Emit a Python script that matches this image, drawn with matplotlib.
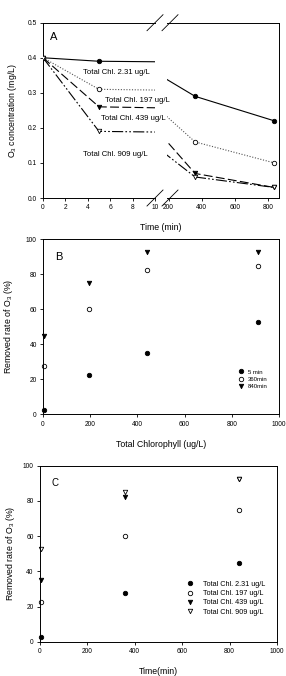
import numpy as np
import matplotlib.pyplot as plt
from matplotlib.lines import Line2D

plt.rcParams['font.family'] = ['Liberation Sans', 'DejaVu Sans']
plt.rcParams['mathtext.default'] = 'regular'

# -----------------------------
# DADOS
# -----------------------------
series = ["Total Chl. 2.31 ug/L", "Total Chl. 197 ug/L",
          "Total Chl. 439 ug/L", "Total Chl. 909 ug/L"]
chl = [2.31, 197, 439, 909]

# painel A: concentração de O3
t_a = [0, 5, 360, 840]
o3_231 = [0.40, 0.39, 0.29, 0.22]
o3_197 = [0.40, 0.31, 0.16, 0.10]
o3_439 = [0.40, 0.26, 0.07, 0.03]
o3_909 = [0.40, 0.19, 0.06, 0.03]

# painel B: remoção x clorofila
rem_5min = [2.5, 22.5, 35, 52.5]
rem_360min = [27.5, 60, 82.5, 85]
rem_840min = [45, 75, 92.5, 92.5]
labels_b = ["5 min", "360min", "840min"]

# painel C: remoção x tempo
t_c = [5, 360, 840]
rem_231 = [2.5, 27.5, 45]
rem_197 = [22.5, 60, 75]
rem_439 = [35, 82.5, 92.5]
rem_909 = [52.5, 85, 92.5]

W, H = 286, 676
fig = plt.figure(figsize=(W / 100, H / 100), dpi=100)


def box(x0, y0, x1, y1):
    return [x0 / W, 1 - y1 / H, (x1 - x0) / W, (y1 - y0) / H]


def estilo(ax):
    ax.tick_params(direction='out', length=2.5, width=0.6, labelsize=4.8, pad=2)
    for s in ax.spines.values():
        s.set_linewidth(0.7)


mk = [dict(marker='o', mfc='black', mec='black'),
      dict(marker='o', mfc='white', mec='black'),
      dict(marker='v', mfc='black', mec='black'),
      dict(marker='v', mfc='white', mec='black')]
ls = ['-', (0, (1, 1.5)), (0, (8, 3)), (0, (10, 2, 1.5, 2, 1.5, 2))]
cores = ['black', '#555555', 'black', 'black']

# -----------------------------
# PAINEL A (eixo quebrado)
# -----------------------------
ax1 = fig.add_axes(box(43, 22.7, 155, 198))
ax2 = fig.add_axes(box(167, 22.7, 279, 198))
for ax in (ax1, ax2):
    for i, y in enumerate([o3_231, o3_197, o3_439, o3_909]):
        ax.plot(t_a, y, linestyle=ls[i], color=cores[i], lw=0.8, zorder=3)
    for i, y in enumerate([o3_231, o3_197, o3_439, o3_909]):
        ax.plot(t_a, y, linestyle='none', markersize=3.2, mew=0.6,
                **mk[i], zorder=4)
    ax.set_ylim(0, 0.5)
    estilo(ax)
ax1.set_xlim(0, 10)
ax1.set_xticks(range(0, 11, 2))
ax1.set_yticks(np.arange(0, 0.51, 0.1))
ax1.set_yticklabels(["%.1f" % v for v in np.arange(0, 0.51, 0.1)])
ax1.spines['right'].set_visible(False)
ax2.set_xlim(190, 868)
ax2.set_xticks([200, 400, 600, 800])
ax2.spines['left'].set_visible(False)
ax2.tick_params(axis='y', left=False, labelleft=False)
ax1.set_ylabel("O$_3$ concentration (mg/L)", fontsize=6.3, labelpad=6)
fig.text(161 / W, 1 - 227 / H, "Time (min)", fontsize=6.3,
         ha='center', va='center')
ax1.text(0.06, 0.92, "A", transform=ax1.transAxes, fontsize=8,
         ha='left', va='center')

# rótulos das séries
pos_txt = [(116, 73), (137, 100), (133, 119), (115, 154)]
for txt, (px, py) in zip(series, pos_txt):
    fig.text(px / W, 1 - py / H, txt, fontsize=5.6, ha='center', va='center')

# marcas de quebra
for yb in (22.7, 198):
    for xc in (155, 170):
        fig.add_artist(Line2D([(xc - 8) / W, (xc + 8) / W],
                              [1 - (yb + 8) / H, 1 - (yb - 8) / H],
                              color='black', lw=0.6))

# -----------------------------
# PAINEL B
# -----------------------------
axb = fig.add_axes(box(43, 239.3, 279, 414.3))
for i, y in enumerate([rem_5min, rem_360min, rem_840min]):
    axb.plot(chl, y, linestyle='none', markersize=3.2, mew=0.6,
             label=labels_b[i], clip_on=False, **mk[i])
axb.set_xlim(0, 1000)
axb.set_ylim(0, 100)
axb.set_xticks(range(0, 1001, 200))
axb.set_yticks(range(0, 101, 20))
estilo(axb)
axb.set_xlabel("Total Chlorophyll (ug/L)", fontsize=6.3, labelpad=9)
axb.set_ylabel("Removed rate of O$_3$ (%)", fontsize=6.3, labelpad=8)
axb.text(0.05, 0.9, "B", transform=axb.transAxes, fontsize=8,
         ha='left', va='center')
axb.legend(loc='lower right', bbox_to_anchor=(0.97, 0.12), frameon=False,
           fontsize=4.3, handlelength=1.0, handletextpad=0.6,
           labelspacing=0.35, borderpad=0.2)

# -----------------------------
# PAINEL C
# -----------------------------
axc = fig.add_axes(box(40, 465.7, 277, 641.7))
for i, y in enumerate([rem_231, rem_197, rem_439, rem_909]):
    axc.plot(t_c, y, linestyle='none', markersize=3.2, mew=0.6,
             label=series[i], clip_on=False, **mk[i])
axc.set_xlim(0, 1000)
axc.set_ylim(0, 100)
axc.set_xticks(range(0, 1001, 200))
axc.set_yticks(range(0, 101, 20))
estilo(axc)
axc.set_xlabel("Time(min)", fontsize=6.3, labelpad=9)
axc.set_ylabel("Removed rate of O$_3$ (%)", fontsize=6.3, labelpad=4)
axc.text(0.05, 0.9, "C", transform=axc.transAxes, fontsize=7,
         ha='left', va='center')
axc.legend(loc='lower right', bbox_to_anchor=(0.97, 0.12), frameon=False,
           fontsize=5.2, handlelength=1.0, handletextpad=1.2,
           labelspacing=0.3, borderpad=0.2)

fig.savefig("out.png", dpi=100)
